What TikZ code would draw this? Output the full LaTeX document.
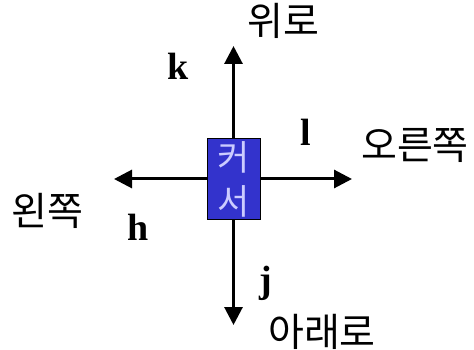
\documentclass[tikz,border=0pt]{standalone}
\usepackage{fontspec}
\usetikzlibrary{arrows.meta}
\newfontfamily\kor{Noto Sans CJK KR}
\newfontfamily\keyfont{Liberation Serif}
\definecolor{cursorblue}{RGB}{51,51,204}
\definecolor{cursortext}{RGB}{204,204,255}
\tikzset{
  >={Triangle[length=18pt,width=18pt]},
  dir/.style={inner sep=0pt, font=\kor\fontsize{39}{42}\selectfont},
  key/.style={inner sep=0pt, font=\keyfont\bfseries\fontsize{38}{40}\selectfont},
  move/.style={->, line width=3pt}
}
\begin{document}
\begin{tikzpicture}[x=1pt,y=-1pt]
    \useasboundingbox (0,0) rectangle (474,350);
    % the cursor in the middle
    \node[draw=black, line width=1pt, fill=cursorblue, minimum width=53pt, minimum height=80pt,
          inner sep=0pt, align=center, text=cursortext,
          font=\kor\fontsize{35}{44}\selectfont] (cursor) at (233.5,179) {커\\서};
    % arrow ends
    \coordinate (up)    at (233.5,46);
    \coordinate (down)  at (233.5,325);
    \coordinate (left)  at (114,179);
    \coordinate (right) at (352,179);
    \draw[move] (cursor.north) -- (up);
    \draw[move] (cursor.south) -- (down);
    \draw[move] (cursor.west)  -- (left);
    \draw[move] (cursor.east)  -- (right);
    % directions
    \node[dir] (upname)    at (283,21)  {위로};
    \node[dir] (rightname) at (415,145) {오른쪽};
    \node[dir] (leftname)  at (47,211)  {왼쪽};
    \node[dir] (downname)  at (322,332) {아래로};
    % vi keys
    \node[key, anchor=base] (kkey) at (178,80)  {k};
    \node[key, anchor=base] (lkey) at (306,146) {l};
    \node[key, anchor=base] (hkey) at (138,240) {h};
    \node[key, anchor=base] (jkey) at (266,292) {j};
\end{tikzpicture}
\end{document}
